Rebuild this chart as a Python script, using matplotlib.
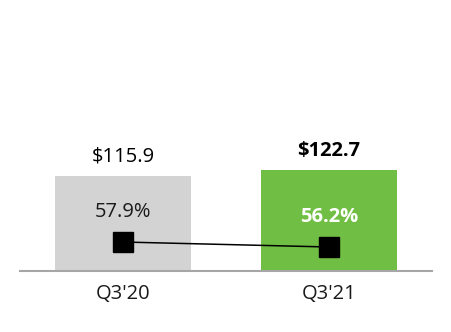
import matplotlib
matplotlib.use("Agg")
import matplotlib.pyplot as plt

plt.rcParams['font.family'] = ['Open Sans', 'DejaVu Sans']

categories = ["Q3'20", "Q3'21"]
revenue = [115.9, 122.7]
revenue_labels = ["$115.9", "$122.7"]
margin = [57.9, 56.2]
margin_labels = ["57.9%", "56.2%"]

bar_colors = ['#d3d3d3', '#70bf44']
x = list(range(len(categories)))

fig = plt.figure(figsize=(4.52, 3.32), dpi=100)
ax = fig.add_axes([20 / 452, 61 / 332, 412 / 452, 271 / 332])
ax.bar(x, revenue, width=0.66, color=bar_colors, zorder=1)
ax.set_xlim(-0.5, 1.5)
ax.set_ylim(0, 330)
ax.set_xticks(x)
ax.set_xticklabels(categories, fontsize=14.5, color='#1a1a1a')
ax.tick_params(axis='x', length=0, pad=9)
ax.set_yticks([])
for s in ['top', 'left', 'right']:
    ax.spines[s].set_visible(False)
ax.spines['bottom'].set_color('#a6a6a6')
ax.spines['bottom'].set_linewidth(1.5)

for i, (v, lab) in enumerate(zip(revenue, revenue_labels)):
    ax.annotate(lab, (x[i], v), xytext=(0, 14.2), textcoords='offset points',
                ha='center', va='center', fontsize=14.5, color='black',
                fontweight='bold' if i == 1 else 'normal')

ax2 = ax.twinx()
ax2.set_ylim(48.04, 48.04 + 271 / 2.94)
ax2.axis('off')
ax2.plot(x, margin, color='black', linewidth=1.1, marker='s', markersize=14,
         markerfacecolor='black', zorder=3)
for i, (v, lab) in enumerate(zip(margin, margin_labels)):
    ax2.annotate(lab, (x[i], v), xytext=(0, 21.4), textcoords='offset points',
                 ha='center', va='center', fontsize=14.5,
                 color='white' if i == 1 else '#1a1a1a',
                 fontweight='bold' if i == 1 else 'normal')

fig.savefig('out.png', dpi=100)
